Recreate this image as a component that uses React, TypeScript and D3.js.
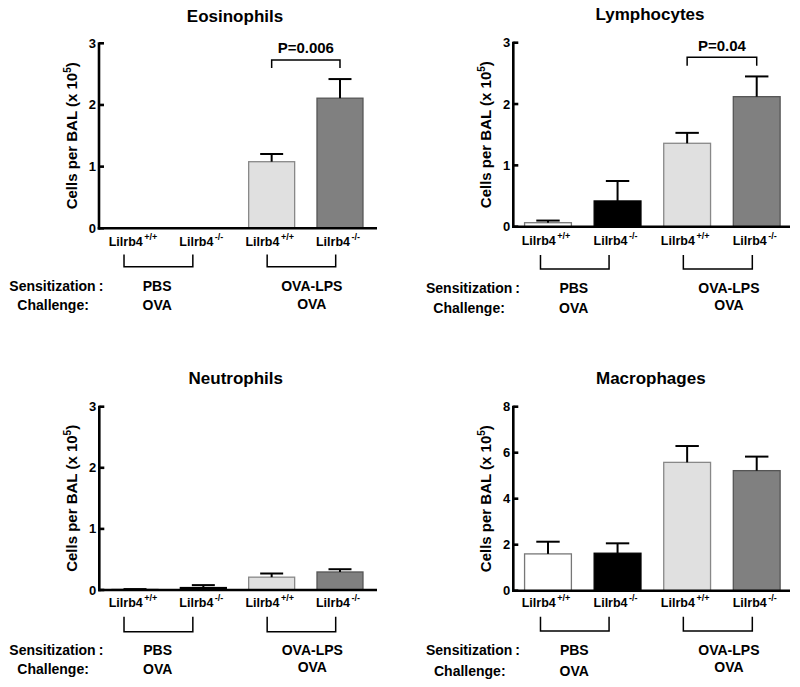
import React from "react";
import * as d3 from "d3";

// ---------- data ----------
const genotypeBase = "Lilrb4";
const genotypeSup = ["+/+", "-/-", "+/+", "-/-"];
const sensitizations = ["PBS", "OVA-LPS"];
const challenges = ["OVA", "OVA"];

const panelTitles = ["Eosinophils", "Lymphocytes", "Neutrophils", "Macrophages"];

const eosMean = [0, 0, 1.08, 2.11];
const eosSem = [0, 0, 0.125, 0.31];
const lymMean = [0.065, 0.42, 1.36, 2.12];
const lymSem = [0.035, 0.325, 0.17, 0.33];
const neuMean = [0.01, 0.04, 0.21, 0.295];
const neuSem = [0.005, 0.04, 0.06, 0.045];
const macMean = [1.6, 1.63, 5.58, 5.22];
const macSem = [0.53, 0.43, 0.71, 0.61];

const ticks3 = [0, 1, 2, 3];
const ticks8 = [0, 2, 4, 6, 8];

const eosP = "P=0.006";
const lymP = "P=0.04";

// ---------- styles ----------
const FONT = "'Liberation Sans', Arial, Helvetica, sans-serif";
const barFill = ["#ffffff", "#000000", "#e0e0e0", "#808080"];
const barStroke = ["#777777", "#000000", "#888888", "#555555"];

type Layout = {
  axisX: number; yTop: number; y0: number; xEnd: number; band: [number, number];
  titleX: number; titleY: number; labelY: number; brTop: number; brBot: number;
  sensY: number; chalY: number; rightChalY: number; sensX: number; chalX: number;
  brShift: [number, number][]; grpShift: number[];
  pLineY?: number; pTickY?: number; pTextY?: number;
};

const leftBr: [number, number][] = [[-11, -10.5], [-4.5, -4.3]];
const rightBr: [number, number][] = [[-7.5, -8.5], [-3.8, -4.4]];

const layouts: Layout[] = [
  { axisX: 99, yTop: 43.3, y0: 228.3, xEnd: 377, band: [100.85, 374.15], titleX: 235, titleY: 21.5,
    labelY: 246, brTop: 254.5, brBot: 266.7, sensY: 291, chalY: 309.5, rightChalY: 309, sensX: 9.3, chalX: 17.3,
    brShift: leftBr, grpShift: [-12, 6], pLineY: 60, pTickY: 68, pTextY: 53 },
  { axisX: 513.3, yTop: 42.7, y0: 226.7, xEnd: 790, band: [513.2, 791.5], titleX: 650, titleY: 20,
    labelY: 245, brTop: 255, brBot: 269, sensY: 293.3, chalY: 312.5, rightChalY: 309.5, sensX: 426, chalX: 433.3,
    brShift: rightBr, grpShift: [-9, 7], pLineY: 57.3, pTickY: 65.7, pTextY: 51.3 },
  { axisX: 99.3, yTop: 406.7, y0: 590, xEnd: 377, band: [100.85, 374.15], titleX: 235.8, titleY: 384,
    labelY: 607, brTop: 616.7, brBot: 631.7, sensY: 655, chalY: 674, rightChalY: 672, sensX: 9.3, chalX: 17.3,
    brShift: leftBr, grpShift: [-11.5, 6.5] },
  { axisX: 513.3, yTop: 406.7, y0: 590.7, xEnd: 790, band: [513.2, 791.5], titleX: 650.8, titleY: 384,
    labelY: 606.7, brTop: 616.7, brBot: 631, sensY: 655, chalY: 676, rightChalY: 671.7, sensX: 426, chalX: 434,
    brShift: rightBr, grpShift: [-8.5, 7] },
];

type PanelProps = {
  title: string; mean: number[]; sem: number[]; ticks: number[]; layout: Layout; pText?: string;
};

function Panel({ title, mean, sem, ticks, layout: L, pText }: PanelProps) {
  const idx = mean.map((_, i) => String(i));
  const x = d3.scaleBand<string>().domain(idx).range(L.band).paddingInner(0.327).paddingOuter(0.1635);
  const y = d3.scaleLinear().domain([0, ticks[ticks.length - 1]]).range([L.y0, L.yTop]);
  const bw = x.bandwidth();
  const cx = (i: number) => (x(String(i)) as number) + bw / 2;
  const capHalf = bw / 4;

  return (
    <g fontFamily={FONT} fontWeight="bold" fill="#000">
      <text x={L.titleX} y={L.titleY} textAnchor="middle" fontSize={17}>{title}</text>

      {/* y label */}
      <text transform={`translate(${L.axisX - 22},${(L.y0 + L.yTop) / 2}) rotate(-90)`} textAnchor="middle" fontSize={15}>
        Cells per BAL (x 10<tspan fontSize={10} dy={-6}>5</tspan><tspan dy={6}>)</tspan>
      </text>

      {/* bars */}
      {mean.map((m, i) => m > 0 ? (
        <g key={i}>
          <rect x={x(String(i))} y={y(m)} width={bw} height={L.y0 - y(m)} fill={barFill[i]} stroke={barStroke[i]} strokeWidth={1.3} />
          {sem[i] > 0 && (
            <g stroke="#000" strokeWidth={2} fill="none">
              <line x1={cx(i)} x2={cx(i)} y1={y(m)} y2={y(m + sem[i])} />
              <line x1={cx(i) - capHalf} x2={cx(i) + capHalf} y1={y(m + sem[i])} y2={y(m + sem[i])} />
            </g>
          )}
        </g>
      ) : null)}

      {/* axes */}
      <g stroke="#000" strokeWidth={2.6} fill="none">
        <line x1={L.axisX} x2={L.axisX} y1={y(ticks[ticks.length - 1]) - 1} y2={L.y0 + 1.3} />
        <line x1={L.axisX - 1.3} x2={L.xEnd} y1={L.y0} y2={L.y0} />
        {ticks.map(t => (
          <line key={t} x1={L.axisX} x2={L.axisX + 5} y1={y(t)} y2={y(t)} />
        ))}
      </g>
      {ticks.map(t => (
        <text key={t} x={L.axisX - 3} y={y(t)} textAnchor="end" dominantBaseline="central" fontSize={13}>{t}</text>
      ))}

      {/* category labels */}
      {genotypeSup.map((s, i) => (
        <text key={i} x={cx(i) - 2} y={L.labelY} textAnchor="middle" fontSize={12.5}>
          {genotypeBase}<tspan fontSize={9} dx={1.5} dy={-6}>{s}</tspan>
        </text>
      ))}

      {/* group brackets */}
      {[0, 1].map(g => {
        const xa = cx(g * 2) + L.brShift[g][0];
        const xb = cx(g * 2 + 1) + L.brShift[g][1];
        return (
          <path key={g} d={`M${xa},${L.brTop}V${L.brBot}H${xb}V${L.brTop}`} stroke="#000" strokeWidth={1.5} fill="none" />
        );
      })}

      {/* group text */}
      <text x={L.sensX} y={L.sensY} fontSize={14}>Sensitization<tspan dx={3}>:</tspan></text>
      <text x={L.chalX} y={L.chalY} fontSize={14}>Challenge:</text>
      {[0, 1].map(g => {
        const mx = (cx(g * 2) + cx(g * 2 + 1)) / 2 + L.grpShift[g];
        return (
          <g key={g}>
            <text x={mx} y={L.sensY} textAnchor="middle" fontSize={14}>{sensitizations[g]}</text>
            <text x={mx} y={g === 0 ? L.chalY : L.rightChalY} textAnchor="middle" fontSize={14}>{challenges[g]}</text>
          </g>
        );
      })}

      {/* significance bracket */}
      {pText && L.pLineY !== undefined && (
        <g>
          <path d={`M${cx(2)},${L.pTickY}V${L.pLineY}H${cx(3)}V${L.pTickY}`} stroke="#000" strokeWidth={1.5} fill="none" />
          <text x={(cx(2) + cx(3)) / 2} y={L.pTextY} textAnchor="middle" fontSize={15}>{pText}</text>
        </g>
      )}
    </g>
  );
}

export default function App() {
  return (
    <svg width={800} height={687} viewBox="0 0 800 687" style={{ position: "absolute", left: 0, top: 0, background: "#fff" }}>
      <rect x={0} y={0} width={800} height={687} fill="#fff" />
      <Panel title={panelTitles[0]} mean={eosMean} sem={eosSem} ticks={ticks3} layout={layouts[0]} pText={eosP} />
      <Panel title={panelTitles[1]} mean={lymMean} sem={lymSem} ticks={ticks3} layout={layouts[1]} pText={lymP} />
      <Panel title={panelTitles[2]} mean={neuMean} sem={neuSem} ticks={ticks3} layout={layouts[2]} />
      <Panel title={panelTitles[3]} mean={macMean} sem={macSem} ticks={ticks8} layout={layouts[3]} />
    </svg>
  );
}
